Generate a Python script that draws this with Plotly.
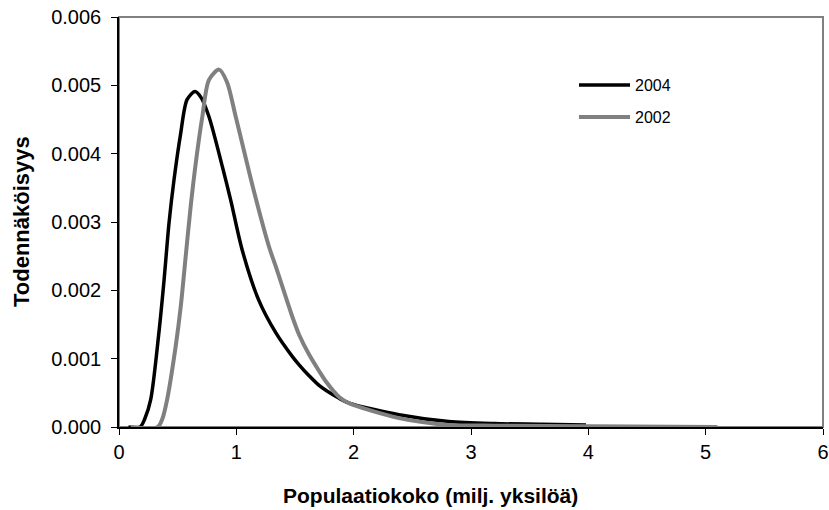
import plotly.graph_objects as go

# ---- data ----
x_2004 = [0.08, 0.18, 0.22, 0.27, 0.34, 0.384, 0.426, 0.469, 0.526, 0.58, 0.648, 0.70,
          0.767, 0.881, 0.952, 1.05, 1.19, 1.336, 1.478, 1.535, 1.62, 1.705, 1.876,
          1.96, 2.387, 2.81, 3.2, 3.6, 3.98]
y_2004 = [0.0, 0.0, 0.00012, 0.00040, 0.00138, 0.00215, 0.00298, 0.00362, 0.00430, 0.00479,
          0.00491, 0.00482, 0.00454, 0.00381, 0.00332, 0.00259, 0.00186, 0.00138,
          0.00103, 0.00091, 0.00075, 0.00061, 0.00042, 0.00035, 0.00018, 0.00008, 0.00005,
          0.00004, 0.00003]

x_2002 = [0.10, 0.33, 0.37, 0.41, 0.483, 0.526, 0.568, 0.611, 0.654, 0.71, 0.767, 0.853,
          0.92, 0.995, 1.15, 1.28, 1.336, 1.478, 1.535, 1.62, 1.705, 1.762, 1.876, 1.96,
          2.387, 2.81, 3.2, 4.0, 5.1]
y_2002 = [0.0, 0.0, 0.00012, 0.00040, 0.00118, 0.00176, 0.00249, 0.00323, 0.00386, 0.00454,
          0.00508, 0.00523, 0.00505, 0.00454, 0.00345, 0.00263, 0.00235, 0.00161,
          0.00135, 0.00106, 0.00082, 0.00067, 0.00044, 0.00035, 0.00013, 0.00003, 0.00002,
          0.00001, 0.0]

series_names = ["2004", "2002"]
series_colors = ["#000000", "#808080"]
y_ticks = [0.000, 0.001, 0.002, 0.003, 0.004, 0.005, 0.006]
x_ticks = [0, 1, 2, 3, 4, 5, 6]

FONT = "Liberation Sans, Arial, sans-serif"

fig = go.Figure()
fig.add_trace(go.Scatter(x=x_2004, y=y_2004, mode="lines", name=series_names[0],
                         line=dict(color=series_colors[0], width=3.5, shape="spline", smoothing=0.8),
                         showlegend=False))
fig.add_trace(go.Scatter(x=x_2002, y=y_2002, mode="lines", name=series_names[1],
                         line=dict(color=series_colors[1], width=4, shape="spline", smoothing=0.8),
                         showlegend=False))

# plot-area border (gray top/right)
fig.add_shape(type="rect", xref="paper", yref="paper", x0=0, y0=0, x1=1, y1=1,
              line=dict(color="#808080", width=2), layer="below")

# custom legend
leg_y = [0.834, 0.756]
for name, col, ly, w in zip(series_names, series_colors, leg_y, [3.5, 4]):
    fig.add_shape(type="line", xref="paper", yref="paper", x0=0.6534, x1=0.7259, y0=ly, y1=ly,
                  line=dict(color=col, width=w))
    fig.add_annotation(xref="paper", yref="paper", x=0.7301, y=ly, text=name, showarrow=False,
                       xanchor="left", yanchor="middle", font=dict(family=FONT, size=16, color="black"))

# axis titles
fig.add_annotation(xref="paper", yref="paper", x=0.4418, y=-0.166, text="<b>Populaatiokoko (milj. yksilöä)</b>",
                   showarrow=False, xanchor="center", yanchor="middle",
                   font=dict(family=FONT, size=21, color="black"))
fig.add_annotation(xref="paper", yref="paper", x=-0.1392, y=0.5, text="<b>Todennäköisyys</b>",
                   showarrow=False, xanchor="center", yanchor="middle", textangle=-90,
                   font=dict(family=FONT, size=22, color="black"))

fig.update_layout(
    width=829, height=510,
    margin=dict(l=119, r=6, t=17, b=83, autoexpand=False),
    paper_bgcolor="white", plot_bgcolor="white",
    font=dict(family=FONT, color="black"),
    xaxis=dict(range=[0, 6], tickvals=x_ticks, showgrid=False, zeroline=False, automargin=False,
               showline=True, linecolor="black", linewidth=1.5,
               ticks="outside", ticklen=6, tickcolor="black", tickwidth=1,
               tickfont=dict(family=FONT, size=20, color="black")),
    yaxis=dict(range=[0, 0.006], tickvals=y_ticks, tickformat=".3f", showgrid=False, zeroline=False,
               automargin=False, ticklabelstandoff=6,
               showline=True, linecolor="black", linewidth=1.5,
               ticks="outside", ticklen=6, tickcolor="black", tickwidth=1,
               tickfont=dict(family=FONT, size=20, color="black")),
)

fig.write_html("out.html")
